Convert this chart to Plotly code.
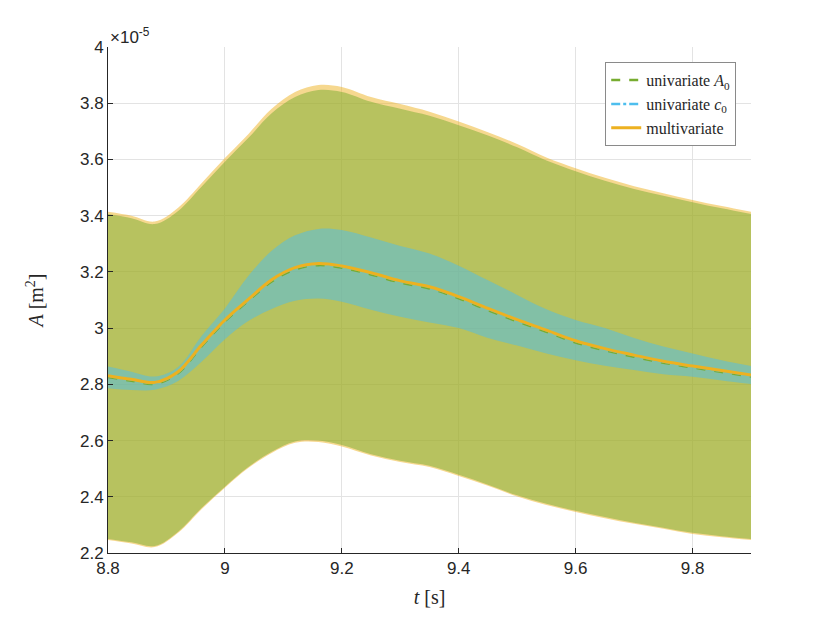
import plotly.graph_objects as go

# time grid [s]
t = [8.8, 8.84, 8.88, 8.92, 8.96, 9.0, 9.04, 9.08, 9.12, 9.16, 9.2, 9.25,
     9.3, 9.35, 9.4, 9.45, 9.5, 9.55, 9.6, 9.65, 9.7, 9.75, 9.8, 9.85, 9.9]

# all areas in units of 1e-5 m^2
multi_upper = [3.414, 3.400, 3.379, 3.428, 3.515, 3.605, 3.690, 3.780, 3.840, 3.865, 3.858, 3.822,
               3.797, 3.770, 3.735, 3.697, 3.655, 3.607, 3.569, 3.535, 3.505, 3.480, 3.456, 3.434, 3.414]
multi_lower = [2.246, 2.234, 2.221, 2.272, 2.356, 2.432, 2.502, 2.556, 2.592, 2.595, 2.579, 2.547,
               2.524, 2.506, 2.474, 2.439, 2.401, 2.371, 2.346, 2.324, 2.304, 2.286, 2.268, 2.256, 2.246]
multi_mean = [2.831, 2.818, 2.807, 2.845, 2.940, 3.029, 3.102, 3.172, 3.215, 3.230, 3.221, 3.197,
              3.168, 3.147, 3.112, 3.070, 3.030, 2.993, 2.955, 2.927, 2.904, 2.882, 2.865, 2.849, 2.833]

a0_upper = [3.406, 3.391, 3.370, 3.417, 3.503, 3.592, 3.676, 3.764, 3.822, 3.847, 3.840, 3.805,
            3.780, 3.755, 3.722, 3.685, 3.643, 3.596, 3.558, 3.524, 3.495, 3.471, 3.448, 3.426, 3.406]
a0_lower = [2.250, 2.238, 2.225, 2.276, 2.360, 2.436, 2.506, 2.560, 2.597, 2.600, 2.584, 2.551,
            2.528, 2.510, 2.478, 2.443, 2.405, 2.375, 2.350, 2.328, 2.308, 2.290, 2.272, 2.260, 2.250]
a0_mean = [2.826, 2.813, 2.802, 2.840, 2.935, 3.024, 3.097, 3.166, 3.209, 3.224, 3.215, 3.191,
           3.162, 3.141, 3.106, 3.064, 3.024, 2.987, 2.949, 2.921, 2.898, 2.877, 2.860, 2.844, 2.828]

c0_upper = [2.863, 2.845, 2.828, 2.862, 2.972, 3.070, 3.185, 3.275, 3.330, 3.353, 3.349, 3.322,
            3.292, 3.265, 3.222, 3.170, 3.118, 3.067, 3.029, 3.000, 2.965, 2.935, 2.910, 2.886, 2.865]
c0_lower = [2.786, 2.780, 2.781, 2.812, 2.880, 2.960, 3.025, 3.068, 3.097, 3.105, 3.094, 3.065,
            3.040, 3.020, 3.000, 2.965, 2.938, 2.910, 2.886, 2.866, 2.851, 2.836, 2.827, 2.814, 2.801]
c0_mean = [2.830, 2.817, 2.806, 2.844, 2.939, 3.028, 3.101, 3.171, 3.214, 3.229, 3.220, 3.196,
           3.167, 3.146, 3.111, 3.069, 3.029, 2.992, 2.954, 2.926, 2.903, 2.881, 2.864, 2.848, 2.832]

GREEN = "#77AC30"
BLUE = "#4DBEEE"
ORANGE = "#EDB120"
SERIF = "Liberation Serif"
SANS = "Liberation Sans"

fig = go.Figure()


def add_band(lower, upper, rgba):
    fig.add_trace(go.Scatter(x=t, y=lower, mode="lines", line=dict(width=0, shape="spline", smoothing=1),
                             showlegend=False, hoverinfo="skip"))
    fig.add_trace(go.Scatter(x=t, y=upper, mode="lines", line=dict(width=0, shape="spline", smoothing=1),
                             fill="tonexty", fillcolor=rgba, showlegend=False, hoverinfo="skip"))


add_band(multi_lower, multi_upper, "rgba(237,177,32,0.5)")
add_band(a0_lower, a0_upper, "rgba(119,172,48,0.5)")
add_band(c0_lower, c0_upper, "rgba(77,190,238,0.5)")

fig.add_trace(go.Scatter(x=t, y=a0_mean, mode="lines", name="univariate <i>A</i><sub>0</sub>",
                         line=dict(color=GREEN, width=2.5, dash="dash", shape="spline")))
fig.add_trace(go.Scatter(x=t, y=c0_mean, mode="lines", name="univariate <i>c</i><sub>0</sub>",
                         line=dict(color=BLUE, width=2.5, dash="dashdot", shape="spline")))
fig.add_trace(go.Scatter(x=t, y=multi_mean, mode="lines", name="multivariate",
                         line=dict(color=ORANGE, width=3, shape="spline")))

axis_common = dict(showgrid=True, gridcolor="#e3e3e3", gridwidth=1, zeroline=False,
                   showline=True, linecolor="#262626", linewidth=1,
                   ticks="inside", ticklen=5, tickcolor="#262626",
                   tickfont=dict(family=SANS, size=17, color="#262626"))

fig.update_xaxes(range=[8.8, 9.9], dtick=0.2, tick0=8.8,
                 title=dict(text="<i>t</i> [s]", font=dict(family=SERIF, size=20, color="#262626"),
                            standoff=12),
                 **axis_common)
fig.update_yaxes(range=[2.2, 4.0], dtick=0.2, tick0=2.2,
                 title=dict(text="<i>A</i> [m<sup>2</sup>]", font=dict(family=SERIF, size=20, color="#262626"),
                            standoff=30),
                 **axis_common)

fig.add_annotation(xref="paper", yref="paper", x=0, y=1, xanchor="left", yanchor="bottom",
                   text="×10<sup>-5</sup>", showarrow=False, yshift=-2,
                   font=dict(family=SANS, size=17, color="#262626"))

# page is offset by the 8px body margin, so the margins are shifted to match
fig.update_layout(
    width=830, height=623,
    margin=dict(l=100, r=87, t=39, b=78),
    plot_bgcolor="white", paper_bgcolor="white",
    legend=dict(x=0.977, y=0.97, xanchor="right", yanchor="top",
                bgcolor="white", bordercolor="#8a8a8a", borderwidth=1,
                font=dict(family=SERIF, size=16, color="#262626"),
                traceorder="normal", tracegroupgap=0),
)

fig.write_html("out.html")
